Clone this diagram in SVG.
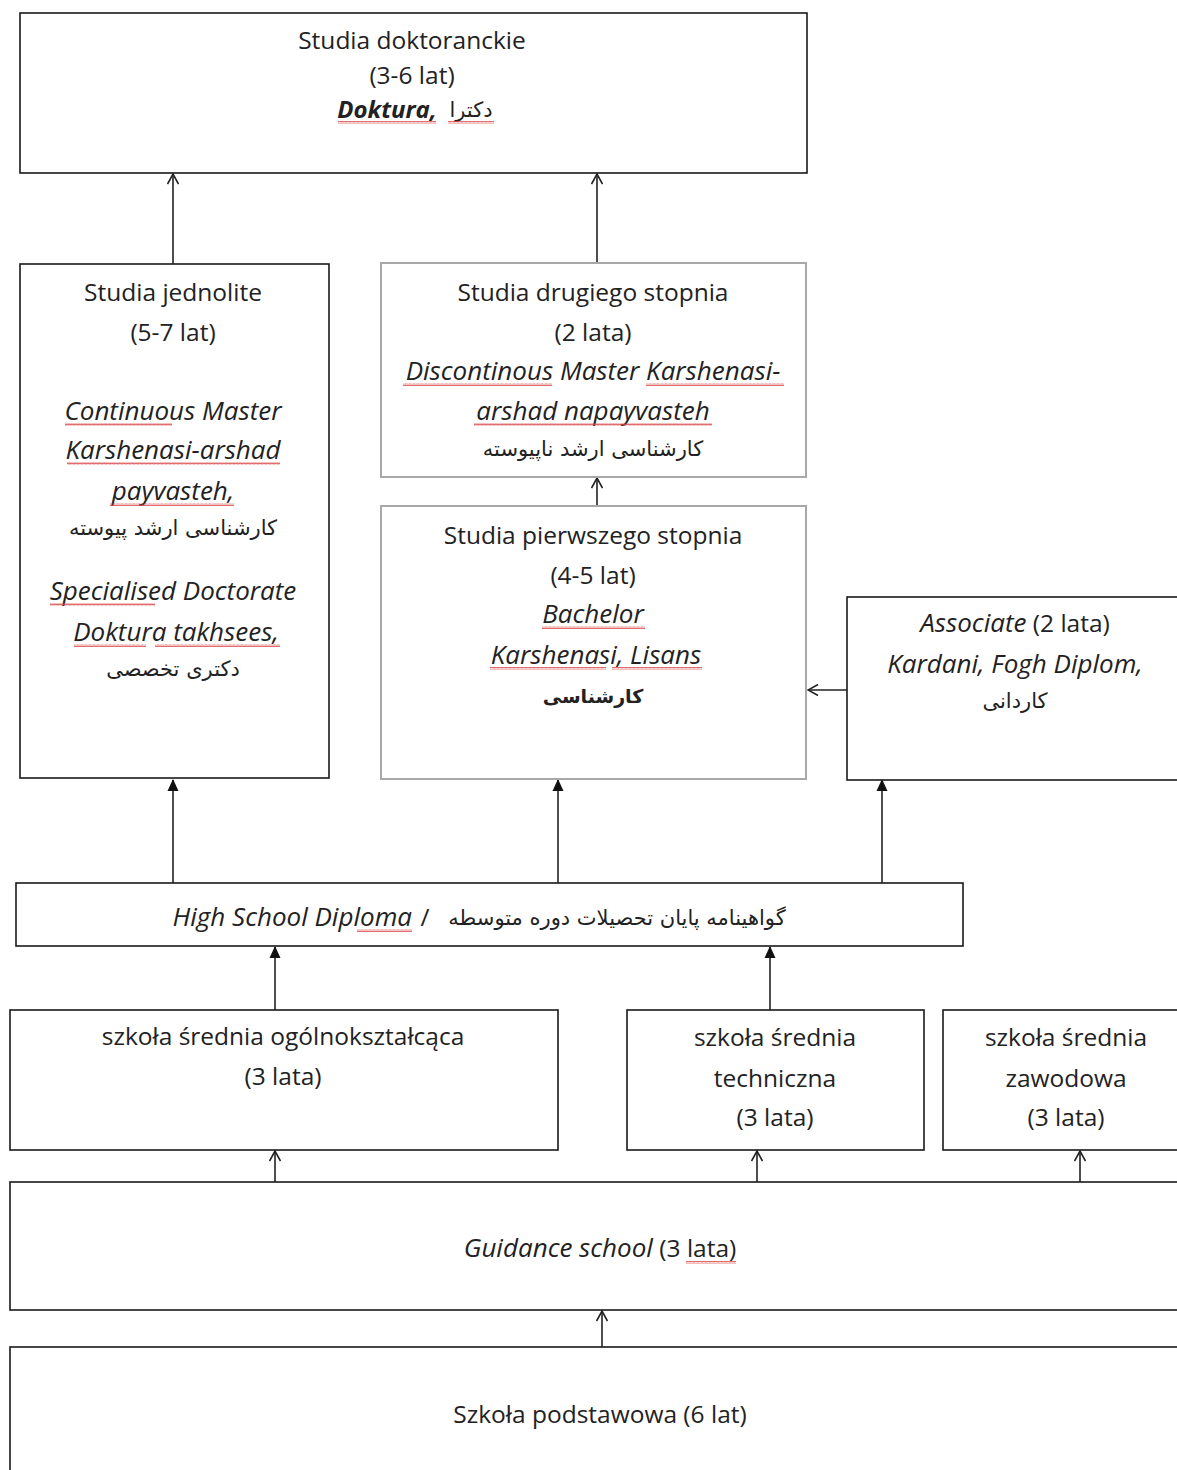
<svg xmlns="http://www.w3.org/2000/svg" width="1177" height="1470" viewBox="0 0 1177 1470">
<style>
.bx{fill:#fff;stroke:#1a1a1a;stroke-width:1.6}
.gb{fill:#fff;stroke:#a8a8a8;stroke-width:2}
.t{font-family:"Open Sans","DejaVu Sans",sans-serif;font-size:24.5px;fill:#222;text-anchor:middle}
.it{font-style:italic;font-size:26px}
.fa{font-family:"DejaVu Sans","Noto Sans",sans-serif;font-size:21px;fill:#222;text-anchor:middle}
.c{stroke:#222;stroke-width:1.6;fill:none}
.w{fill:url(#wv)}
</style>
<defs>
<marker id="op" viewBox="0 0 12 12" refX="11" refY="6" markerWidth="12" markerHeight="12" markerUnits="userSpaceOnUse" orient="auto">
<path d="M1 0.5 L11 6 L1 11.5" fill="none" stroke="#222" stroke-width="1.6"/>
</marker>
<marker id="fl" viewBox="0 0 12 12" refX="11" refY="6" markerWidth="12" markerHeight="12" markerUnits="userSpaceOnUse" orient="auto">
<path d="M0 0.5 L12 6 L0 11.5 Z" fill="#111"/>
</marker>
<pattern id="wv" width="4" height="3" patternUnits="userSpaceOnUse">
<path d="M0 2.5 L1 0.5 L2 2.5 L3 0.5 L4 2.5" fill="none" stroke="#d9474a" stroke-width="0.8"/>
</pattern>
</defs>

<g id="connectors">
<line class="c" x1="173" y1="264" x2="173" y2="174" marker-end="url(#op)"/>
<line class="c" x1="597" y1="263" x2="597" y2="174" marker-end="url(#op)"/>
<line class="c" x1="597" y1="506" x2="597" y2="478" marker-end="url(#op)"/>
<line class="c" x1="173" y1="883" x2="173" y2="780" marker-end="url(#fl)"/>
<line class="c" x1="558" y1="883" x2="558" y2="780" marker-end="url(#fl)"/>
<line class="c" x1="882" y1="883" x2="882" y2="780" marker-end="url(#fl)"/>
<line class="c" x1="847" y1="690" x2="808" y2="690" marker-end="url(#op)"/>
<line class="c" x1="275" y1="1010" x2="275" y2="947" marker-end="url(#fl)"/>
<line class="c" x1="770" y1="1010" x2="770" y2="947" marker-end="url(#fl)"/>
<line class="c" x1="275" y1="1182" x2="275" y2="1151" marker-end="url(#op)"/>
<line class="c" x1="757" y1="1182" x2="757" y2="1151" marker-end="url(#op)"/>
<line class="c" x1="1080" y1="1182" x2="1080" y2="1151" marker-end="url(#op)"/>
<line class="c" x1="602" y1="1347" x2="602" y2="1311" marker-end="url(#op)"/>
</g>

<g id="doktoranckie">
<rect class="bx" x="20" y="13" width="787" height="160"/>
<text class="t" x="412" y="49">Studia doktoranckie</text>
<text class="t" x="412" y="84">(3-6 lat)</text>
<text class="t" x="387" y="118" style="font-weight:bold;font-style:italic;font-size:24px">Doktura,</text>
<text class="fa" x="471" y="117">دکترا</text>
<rect class="w" x="338" y="121" width="98" height="3"/>
<rect class="w" x="448" y="121" width="46" height="3"/>
</g>

<g id="jednolite">
<rect class="bx" x="20" y="264" width="309" height="514"/>
<text class="t" x="173" y="301">Studia jednolite</text>
<text class="t" x="173" y="341">(5-7 lat)</text>
<text class="t it" x="173" y="420">Continuous Master</text>
<text class="t it" x="173" y="459">Karshenasi-arshad</text>
<text class="t it" x="173" y="500">payvasteh,</text>
<text class="fa" x="173" y="535">کارشناسی ارشد پیوسته</text>
<text class="t it" x="173" y="600">Specialised Doctorate</text>
<text class="t it" x="176" y="641">Doktura takhsees,</text>
<text class="fa" x="173" y="676">دکتری تخصصی</text>
<rect class="w" x="65" y="423" width="107" height="3"/>
<rect class="w" x="67" y="462" width="213" height="3"/>
<rect class="w" x="110" y="503" width="124" height="3"/>
<rect class="w" x="50" y="603" width="105" height="3"/>
<rect class="w" x="74" y="644" width="72" height="3"/>
<rect class="w" x="155" y="644" width="125" height="3"/>
</g>

<g id="drugiego">
<rect class="gb" x="381" y="263" width="425" height="214"/>
<text class="t" x="593" y="301">Studia drugiego stopnia</text>
<text class="t" x="593" y="341">(2 lata)</text>
<text class="t it" x="593" y="380">Discontinous Master Karshenasi-</text>
<text class="t it" x="593" y="420">arshad napayvasteh</text>
<text class="fa" x="593" y="456">کارشناسی ارشد ناپیوسته</text>
<rect class="w" x="403" y="383" width="149" height="3"/>
<rect class="w" x="646" y="383" width="138" height="3"/>
<rect class="w" x="474" y="423" width="238" height="3"/>
</g>

<g id="pierwszego">
<rect class="gb" x="381" y="506" width="425" height="273"/>
<text class="t" x="593" y="544">Studia pierwszego stopnia</text>
<text class="t" x="593" y="584">(4-5 lat)</text>
<text class="t it" x="593" y="623">Bachelor</text>
<text class="t it" x="596" y="664">Karshenasi, Lisans</text>
<text class="fa" x="593" y="703" style="font-weight:bold;font-size:19px">کارشناسی</text>
<rect class="w" x="542" y="626" width="103" height="3"/>
<rect class="w" x="490" y="667" width="116" height="3"/>
<rect class="w" x="612" y="667" width="90" height="3"/>
</g>

<g id="associate">
<rect class="bx" x="847" y="597" width="340" height="183"/>
<text class="t" x="1015" y="632"><tspan class="it">Associate</tspan> (2 lata)</text>
<text class="t it" x="1015" y="673">Kardani, Fogh Diplom,</text>
<text class="fa" x="1015" y="708">کاردانی</text>
</g>

<g id="highschool">
<rect class="bx" x="16" y="883" width="947" height="63"/>
<text class="t it" x="412" y="926" style="text-anchor:end">High School Diploma</text>
<text class="t" x="425" y="926">/</text>
<text class="fa" x="617" y="925">گواهینامه پایان تحصیلات دوره متوسطه</text>
<rect class="w" x="357" y="929" width="55" height="3"/>
</g>

<g id="ogolno">
<rect class="bx" x="10" y="1010" width="548" height="140"/>
<text class="t" x="283" y="1045">szkoła średnia ogólnokształcąca</text>
<text class="t" x="283" y="1085">(3 lata)</text>
</g>

<g id="techniczna">
<rect class="bx" x="627" y="1010" width="297" height="140"/>
<text class="t" x="775" y="1046">szkoła średnia</text>
<text class="t" x="775" y="1087">techniczna</text>
<text class="t" x="775" y="1126">(3 lata)</text>
</g>

<g id="zawodowa">
<rect class="bx" x="943" y="1010" width="244" height="140"/>
<text class="t" x="1066" y="1046">szkoła średnia</text>
<text class="t" x="1066" y="1087">zawodowa</text>
<text class="t" x="1066" y="1126">(3 lata)</text>
</g>

<g id="guidance">
<rect class="bx" x="10" y="1182" width="1177" height="128"/>
<text class="t" x="600" y="1257"><tspan class="it">Guidance school</tspan> (3 lata)</text>
<rect class="w" x="686" y="1261" width="50" height="3"/>
</g>

<g id="podstawowa">
<rect class="bx" x="10" y="1347" width="1177" height="140"/>
<text class="t" x="600" y="1423">Szkoła podstawowa (6 lat)</text>
</g>
</svg>
